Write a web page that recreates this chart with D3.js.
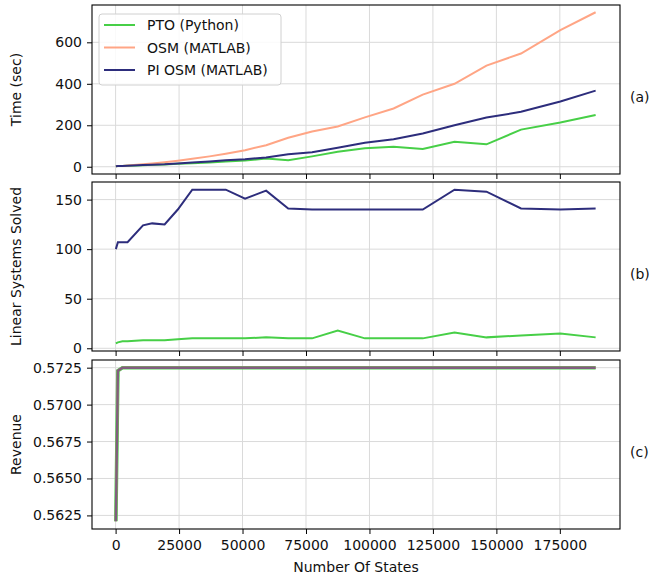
<!DOCTYPE html>
<meta charset="utf-8">
<title>States chart</title>
<style>
body { margin: 0; background: #fff; }
text { font-family: "DejaVu Sans", sans-serif; font-size: 14px; fill: #111; }
.grid line { stroke: #dadada; stroke-width: 1; }
.axis path, .axis line { stroke: #000; }
.frame { fill: none; stroke: #000; stroke-width: 1.1; }
</style>
<body>
<svg width="649" height="577"></svg>
<script src="https://d3js.org/d3.v7.min.js"></script>
<script>

// number of states (x)
var states = [100, 900, 2700, 4700, 10800, 14400, 19300, 24500, 30200, 37000, 43400, 51000,
              59300, 68000, 77400, 87500, 98200, 109500, 121000, 133500, 146100, 159700, 175200, 189100];

// (a) time in seconds
var ptoTime = [2, 3, 4, 5, 7, 9, 11, 14, 17, 21, 25, 30, 40, 31, 50, 72, 89, 96, 86, 120, 108, 179, 213, 250];
var osmTime = [2, 3, 4, 6, 12, 16, 22, 29, 38, 50, 63, 80, 104, 140, 170, 194, 238, 281, 348, 400, 488, 546, 659, 745];
var piTime  = [2, 3, 4, 5, 8, 10, 12, 16, 20, 25, 31, 36, 45, 60, 70, 92, 116, 133, 160, 200, 237, 265, 315, 367];

// (b) linear systems solved
var ptoLss = [5, 6, 7, 7, 8, 8, 8, 9, 10, 10, 10, 10, 11, 10, 10, 18, 10, 10, 10, 16, 11, 13, 15, 11];
var piLss  = [100, 107, 107, 107, 124, 126, 125, 140, 160, 160, 160, 151, 159, 141, 140, 140, 140, 140, 140, 160, 158, 141, 140, 141];

// (c) revenue (same for all three methods)
var revenue = [0.5621, 0.5723, 0.5725, 0.5725, 0.5725, 0.5725, 0.5725, 0.5725, 0.5725, 0.5725, 0.5725, 0.5725,
               0.5725, 0.5725, 0.5725, 0.5725, 0.5725, 0.5725, 0.5725, 0.5725, 0.5725, 0.5725, 0.5725, 0.5725];

var xTicks = [0, 25000, 50000, 75000, 100000, 125000, 150000, 175000];
var names = ["PTO (Python)", "OSM (MATLAB)", "PI OSM (MATLAB)"];
var colors = ["#47cf47", "#ffa585", "#2d2d7c"];

var svg = d3.select("svg");
var left = 92, right = 620;

var x = d3.scaleLinear().domain([-9300, 198700]).range([left, right]);

var panels = [
  {top: 5, bottom: 174, domain: [-35, 780], ticks: [0, 200, 400, 600], fmt: d3.format("d"),
   label: "Time (sec)", tag: "(a)",
   series: [{v: ptoTime, c: 0}, {v: osmTime, c: 1}, {v: piTime, c: 2}]},
  {top: 182, bottom: 351, domain: [-2.75, 167.75], ticks: [0, 50, 100, 150], fmt: d3.format("d"),
   label: "Linear Systems Solved", tag: "(b)",
   series: [{v: ptoLss, c: 0}, {v: piLss, c: 2}]},
  {top: 360, bottom: 529, domain: [0.56158, 0.57302], ticks: [0.5625, 0.565, 0.5675, 0.57, 0.5725], fmt: d3.format(".4f"),
   label: "Revenue", tag: "(c)",
   series: [{v: revenue, c: 0, w: 3.6}, {v: revenue, c: 1, w: 2.4}, {v: revenue, c: 2, w: 2.4, o: 0.6}]}
];

panels.forEach(function(p, pi) {
  var y = d3.scaleLinear().domain(p.domain).range([p.bottom, p.top]);
  var g = svg.append("g");

  // grid
  g.append("g").attr("class", "grid").selectAll("line").data(xTicks).enter().append("line")
    .attr("x1", function(d) { return x(d); }).attr("x2", function(d) { return x(d); })
    .attr("y1", p.top).attr("y2", p.bottom);
  g.append("g").attr("class", "grid").selectAll("line").data(p.ticks).enter().append("line")
    .attr("y1", function(d) { return y(d); }).attr("y2", function(d) { return y(d); })
    .attr("x1", left).attr("x2", right);

  // lines
  p.series.forEach(function(s) {
    var line = d3.line().x(function(d, i) { return x(states[i]); }).y(function(d) { return y(d); });
    g.append("path").datum(s.v)
      .attr("fill", "none")
      .attr("stroke", colors[s.c])
      .attr("stroke-width", s.w || 2)
      .attr("stroke-opacity", s.o || 1)
      .attr("d", line);
  });

  // axes
  var ax = g.append("g").attr("class", "axis")
    .attr("transform", "translate(" + left + ",0)")
    .call(d3.axisLeft(y).tickValues(p.ticks).tickFormat(p.fmt).tickSizeOuter(0).tickSize(5).tickPadding(5));
  ax.select(".domain").remove();
  ax.selectAll("text").style("font-size", "14px").style("font-family", "DejaVu Sans").attr("fill", "#111");

  var bx = g.append("g").attr("class", "axis")
    .attr("transform", "translate(0," + p.bottom + ")")
    .call(d3.axisBottom(x).tickValues(xTicks).tickFormat(d3.format("d")).tickSizeOuter(0).tickSize(5).tickPadding(6));
  bx.select(".domain").remove();
  bx.selectAll("text").style("font-size", "14px").style("font-family", "DejaVu Sans").attr("fill", "#111");
  if (pi < 2) bx.selectAll("text").remove();

  g.append("rect").attr("class", "frame")
    .attr("x", left).attr("y", p.top).attr("width", right - left).attr("height", p.bottom - p.top);

  var mid = (p.top + p.bottom) / 2;
  g.append("text")
    .attr("transform", "translate(16," + mid + ") rotate(-90)")
    .attr("text-anchor", "middle").attr("dominant-baseline", "central")
    .text(p.label);
  g.append("text").attr("x", 630).attr("y", mid + 7)
    .attr("dominant-baseline", "central").text(p.tag);
});

svg.append("text").attr("x", (left + right) / 2).attr("y", 567)
  .attr("text-anchor", "middle").attr("dominant-baseline", "central")
  .text("Number Of States");

// legend
var lg = svg.append("g");
lg.append("rect").attr("x", 99).attr("y", 14).attr("width", 182).attr("height", 71).attr("rx", 3)
  .attr("fill", "#fff").attr("fill-opacity", 0.85).attr("stroke", "#d0d0d0");
names.forEach(function(n, i) {
  var yy = 25 + i * 22.5;
  lg.append("line").attr("x1", 104).attr("x2", 135).attr("y1", yy).attr("y2", yy)
    .attr("stroke", colors[i]).attr("stroke-width", 2);
  lg.append("text").attr("x", 147).attr("y", yy).attr("dominant-baseline", "central").text(n);
});

</script>
</body>
